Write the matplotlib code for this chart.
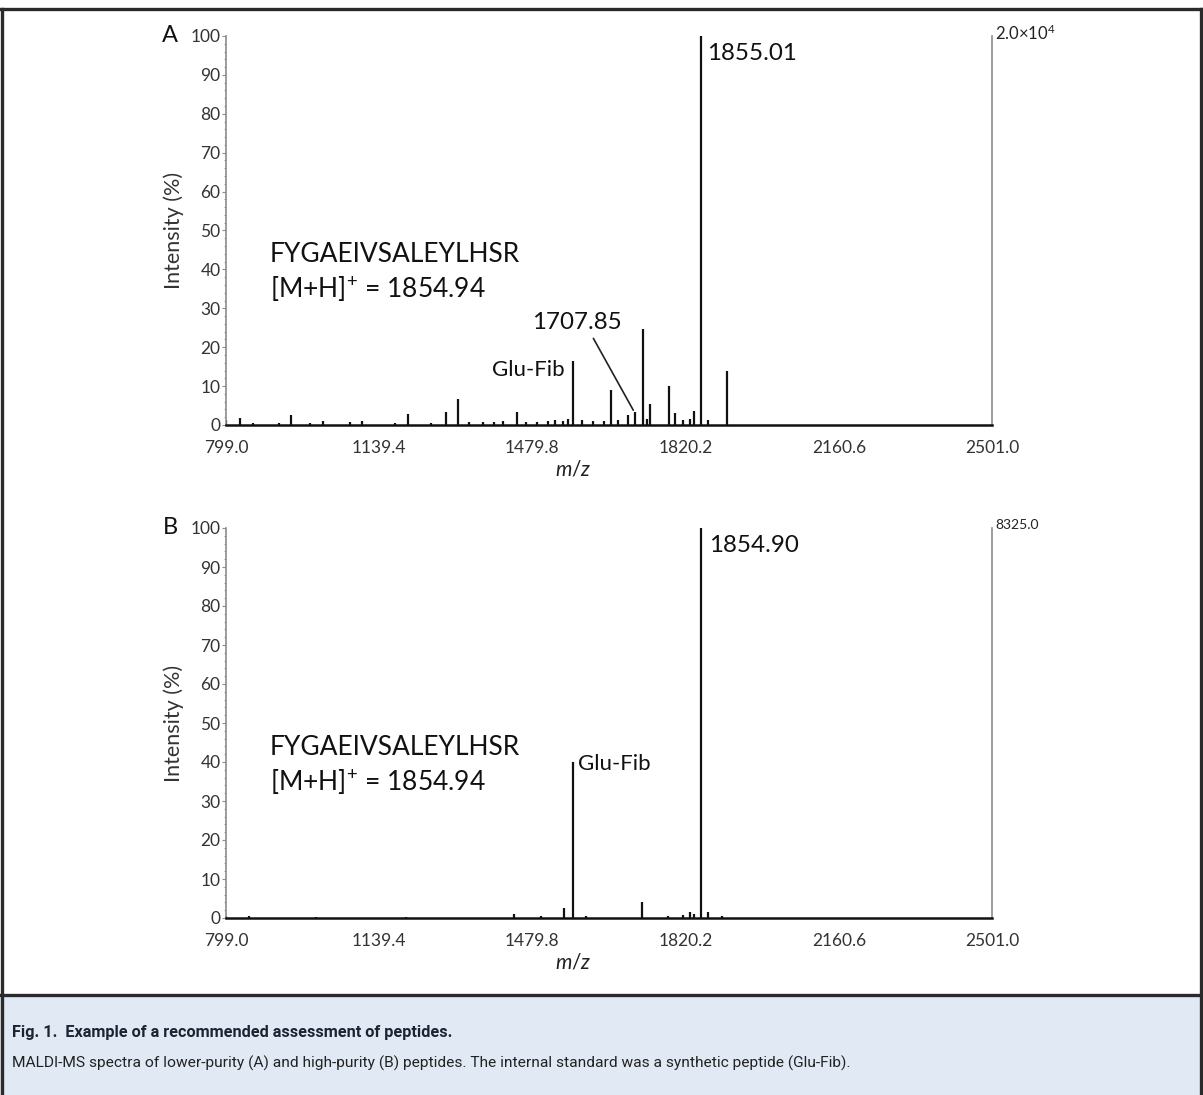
import matplotlib
matplotlib.use('Agg')
import matplotlib.pyplot as plt
from matplotlib.lines import Line2D
from matplotlib.patches import Rectangle
from matplotlib.ticker import FixedLocator, MultipleLocator

plt.rcParams['font.family'] = ['Lato', 'DejaVu Sans']
plt.rcParams['mathtext.fontset'] = 'custom'
plt.rcParams['mathtext.rm'] = 'Lato'
plt.rcParams['mathtext.it'] = 'Lato:italic'

# ---------------- data ----------------
x_ticks = [799.0, 1139.4, 1479.8, 1820.2, 2160.6, 2501.0]
y_ticks = [0, 10, 20, 30, 40, 50, 60, 70, 80, 90, 100]

# Panel A: lower-purity peptide (m/z, relative intensity %)
a_mz = [800, 830, 860, 917, 943, 986, 1015, 1075, 1101, 1174, 1203, 1255, 1287,
        1314, 1340, 1370, 1395, 1415, 1445, 1465, 1489, 1515, 1530, 1548, 1560,
        1571, 1590, 1614, 1639, 1654.6, 1670, 1691.6, 1707.85, 1725, 1734, 1741,
        1784, 1797, 1815, 1830, 1839, 1855.01, 1870, 1911.7]
a_int = [1.3, 1.7, 0.5, 0.5, 2.6, 0.5, 1.1, 0.8, 1.1, 0.6, 2.8, 0.6, 3.3,
         6.7, 0.8, 0.8, 0.7, 1.0, 3.4, 0.8, 0.8, 1.0, 1.2, 1.0, 1.5,
         16.4, 1.2, 1.0, 1.0, 9.0, 1.2, 2.6, 3.4, 24.6, 1.5, 5.5,
         9.9, 3.0, 1.2, 1.5, 3.7, 100, 1.2, 14.0]

# Panel B: high-purity peptide
b_mz = [800, 850, 1000, 1200, 1440, 1500, 1551, 1570, 1600, 1723, 1780, 1815,
        1830, 1839, 1854.90, 1870, 1900]
b_int = [0.5, 0.4, 0.3, 0.3, 1.0, 0.4, 2.5, 40.0, 0.5, 4.0, 0.4, 0.8,
         1.5, 1.0, 100, 1.5, 0.4]

peptide = "FYGAEIVSALEYLHSR"
mh_text = "[M+H]$^{+}$ = 1854.94"

# ---------------- figure ----------------
W, H = 1203, 1095
fig = plt.figure(figsize=(W / 100, H / 100), dpi=100)

# caption band
fig.patches.append(Rectangle((0, 0), 1, 100 / H, transform=fig.transFigure,
                             facecolor='#e1eaf4', edgecolor='none', zorder=0))
border_kw = dict(transform=fig.transFigure, color='#2a2a2a', lw=2.4, zorder=5)
fig.lines.append(Line2D([0, 1], [1 - 9 / H, 1 - 9 / H], **border_kw))
fig.lines.append(Line2D([0, 1], [100 / H, 100 / H], **border_kw))
fig.lines.append(Line2D([2 / W, 2 / W], [0, 1 - 9 / H], **border_kw))
fig.lines.append(Line2D([1 - 2 / W, 1 - 2 / W], [0, 1 - 9 / H], **border_kw))

cap_family = ['Liberation Sans Narrow', 'Roboto', 'DejaVu Sans']
fig.text(12 / W, 1 - 1032 / H, "Fig. 1.  Example of a recommended assessment of peptides.",
         fontsize=11.7, fontweight='bold', color='#1c2433', va='center', ha='left',
         family=cap_family)
fig.text(12 / W, 1 - 1063 / H,
         "MALDI-MS spectra of lower-purity (A) and high-purity (B) peptides. "
         "The internal standard was a synthetic peptide (Glu-Fib).",
         fontsize=11.15, color='#222222', va='center', ha='left', family=cap_family)

x0, x1 = 226, 992


def make_axes(top_px, bottom_px):
    return fig.add_axes([x0 / W, 1 - bottom_px / H, (x1 - x0) / W, (bottom_px - top_px) / H])


def style(ax, letter, scale_text, scale_size):
    ax.set_xlim(799.0, 2501.0)
    ax.set_ylim(0, 100)
    ax.spines['top'].set_visible(False)
    ax.spines['left'].set_color('#8c8c8c')
    ax.spines['left'].set_linewidth(1.2)
    ax.spines['right'].set_color('#8c8c8c')
    ax.spines['right'].set_linewidth(1.2)
    ax.spines['bottom'].set_color('#111111')
    ax.spines['bottom'].set_linewidth(1.8)
    ax.xaxis.set_major_locator(FixedLocator(x_ticks))
    ax.set_xticklabels([f"{v:.1f}" for v in x_ticks])
    ax.yaxis.set_major_locator(FixedLocator(y_ticks))
    ax.yaxis.set_minor_locator(MultipleLocator(2))
    ax.tick_params(axis='x', length=0, pad=11, labelsize=12.5, labelcolor='#333333')
    ax.tick_params(axis='y', which='major', length=3, width=0.8, color='#8c8c8c',
                   pad=1, labelsize=12.5, labelcolor='#333333')
    ax.tick_params(axis='y', which='minor', length=1.5, width=0.6, color='#8c8c8c')
    ax.set_ylabel("Intensity (%)", fontsize=15.5, color='#333333')
    ax.yaxis.set_label_coords(-0.055, 0.5)
    ax.set_xlabel("$\\mathit{m/z}$", fontsize=15, color='#222222')
    ax.xaxis.set_label_coords(0.453, -0.088)
    ax.text(-0.073, 1.0, letter, transform=ax.transAxes, fontsize=17,
            ha='center', va='center', color='#111111')
    ax.text(1.004, 1.008, scale_text, transform=ax.transAxes, fontsize=scale_size,
            ha='left', va='center', color='#222222')
    ax.text(0.057, 43.8, peptide, transform=ax.get_yaxis_transform(),
            fontsize=19, ha='left', va='center', color='#111111')
    ax.text(0.057, 35.0, mh_text, transform=ax.get_yaxis_transform(),
            fontsize=19, ha='left', va='center', color='#111111')


# Panel A
axA = make_axes(36, 425)
axA.vlines(a_mz, 0, a_int, color='#111111', lw=1.6)
style(axA, "A", "2.0×10$^{4}$", 12)
axA.text(1868, 95.5, "1855.01", fontsize=17.4, ha='left', va='center', color='#111111')
axA.text(1552, 14.1, "Glu-Fib", fontsize=16, ha='right', va='center', color='#111111')
axA.annotate("1707.85", xy=(1704, 3.8), xytext=(1579, 26.3), fontsize=17.4,
             ha='center', va='center', color='#111111',
             arrowprops=dict(arrowstyle='-', color='#222222', lw=1.2,
                             relpos=(0.65, 0.0), shrinkA=2, shrinkB=0))

# Panel B
axB = make_axes(528, 918)
axB.vlines(b_mz, 0, b_int, color='#111111', lw=1.6)
style(axB, "B", "8325.0", 10)
axB.text(1872, 95.5, "1854.90", fontsize=17.4, ha='left', va='center', color='#111111')
axB.text(1581, 39.4, "Glu-Fib", fontsize=16, ha='left', va='center', color='#111111')

fig.savefig("out.png", dpi=100)
